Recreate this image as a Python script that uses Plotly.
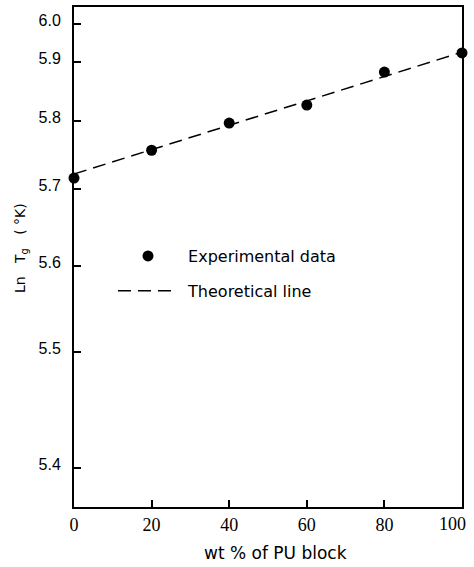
import numpy as np
import plotly.graph_objects as go

# ---- data ----
wt_pu = [0, 20, 40, 60, 80, 100]                      # wt % of PU block
ln_tg_exp = [5.716, 5.757, 5.797, 5.827, 5.883, 5.924]  # experimental Ln Tg
theory_wt = [0, 100]
ln_tg_theory = [5.722, 5.926]                          # theoretical line end values

x_ticks = [0, 20, 40, 60, 80, 100]
x_tick_labels = ["0", "20", "40", "60", "80", "100"]
y_tick_vals = [5.4, 5.5, 5.6, 5.7, 5.8, 5.9, 6.0]
y_tick_labels = ["5.4", "5.5", "5.6", "5.7", "5.8", "5.9", "6.0"]
# The printed ordinate is not evenly graduated: relative height of each graduation
y_tick_scale = [0.078, 0.31, 0.482, 0.636, 0.772, 0.89, 0.966]


def to_axis(v):
    return np.interp(v, y_tick_vals, y_tick_scale)


fig = go.Figure()

fig.add_trace(go.Scatter(
    x=theory_wt, y=to_axis(ln_tg_theory), mode="lines",
    name="\u00a0Theoretical line",
    line=dict(color="black", width=1.5, dash="13px,7px"),
    legendrank=2, legendgroup="b", cliponaxis=False,
))
fig.add_trace(go.Scatter(
    x=wt_pu, y=to_axis(ln_tg_exp), mode="markers",
    name="\u00a0Experimental data",
    marker=dict(color="black", size=11),
    legendrank=1, legendgroup="a", cliponaxis=False,
))

axis_common = dict(
    showline=True, linecolor="black", linewidth=2, mirror=True,
    ticks="inside", ticklen=7, tickwidth=1.5, tickcolor="black",
    showgrid=False, zeroline=False, automargin=False,
)

xtick_font = dict(family="Liberation Sans Narrow", size=18, color="black")

# last abscissa label sits at the page edge: draw it as a right-anchored label
annotations = [
    dict(text=x_tick_labels[-1], xref="x", yref="paper",
         x=x_ticks[-1], y=(507 - 524) / 500, xshift=6,
         xanchor="right", yanchor="middle", showarrow=False, font=xtick_font),
    dict(text="wt % of PU block", xref="paper", yref="paper",
         x=(275 - 74) / 388, y=(507 - 553) / 500,
         xanchor="center", yanchor="middle", showarrow=False,
         font=dict(family="DejaVu Sans", size=17, color="black")),
    dict(text="Ln\u00a0\u00a0\u00a0T<sub>g</sub>\u00a0\u00a0\u00a0(\u00a0°K)",
         xref="paper", yref="paper",
         x=(21 - 74) / 388, y=(507 - 248) / 500, textangle=-90,
         xanchor="center", yanchor="middle", showarrow=False,
         font=dict(family="DejaVu Sans", size=14, color="black")),
]

fig.update_layout(
    width=474, height=567,
    margin=dict(l=74, r=12, t=7, b=60),
    paper_bgcolor="white", plot_bgcolor="white",
    showlegend=True,
    legend=dict(
        x=(113 - 74) / 388, y=0.536, xanchor="left", yanchor="top",
        font=dict(family="DejaVu Sans", size=16, color="black"),
        bgcolor="rgba(0,0,0,0)", itemwidth=60,
        traceorder="grouped", tracegroupgap=11,
    ),
    xaxis=dict(
        range=[0, 100], tickvals=x_ticks,
        ticktext=x_tick_labels[:-1] + [" "],
        tickfont=xtick_font,
        **axis_common,
    ),
    yaxis=dict(
        range=[0, 1], tickvals=y_tick_scale, ticktext=y_tick_labels,
        tickfont=dict(family="Liberation Sans", size=16, color="black"),
        ticklabelstandoff=8, ticklabelshift=-4,
        **axis_common,
    ),
    annotations=annotations,
)

fig.write_html("out.html")
